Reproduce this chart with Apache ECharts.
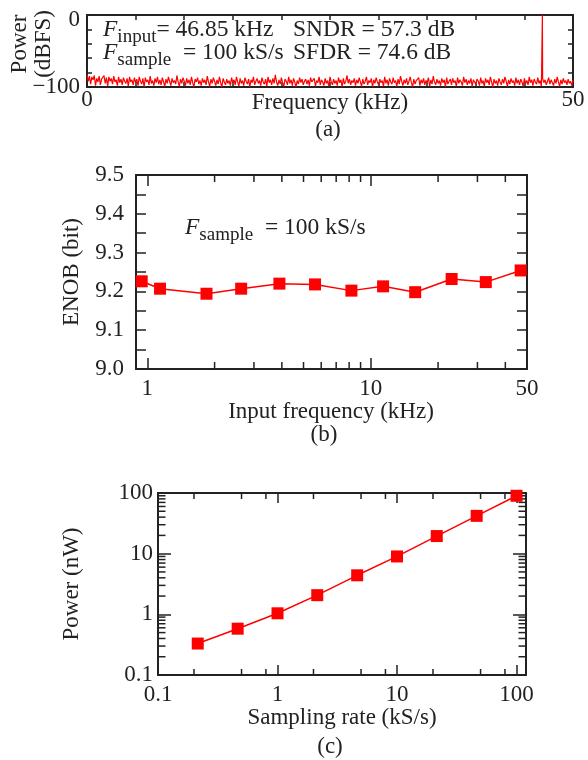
<!DOCTYPE html>
<html><head><meta charset="utf-8">
<script src="https://cdn.jsdelivr.net/npm/echarts@6/dist/echarts.min.js"></script>
<style>html,body{margin:0;padding:0;background:#fff}#c{width:588px;height:760px}</style>
</head><body><div id="c"></div>
<script>
// ---------- Panel (a): output spectrum ----------
const spectrumStep = 0.125; // kHz per FFT bin
const spectrumDb = [
  -83,-92,-85,-96,-86,-90,-84,-98,-88,-93,-85,-97,-89,-91,-84,-95,-87,-99,-86,-92,
  -88,-96,-85,-93,-90,-98,-86,-94,-89,-97,-87,-92,-95,-88,-99,-86,-93,-90,-97,-87,
  -94,-89,-98,-86,-92,-96,-88,-100,-87,-93,-90,-97,-85,-95,-91,-98,-88,-94,-86,-96,
  -90,-97,-87,-93,-99,-89,-95,-86,-92,-98,-88,-94,-91,-96,-84,-93,-99,-89,-95,-87,
  -92,-98,-88,-95,-90,-97,-86,-94,-100,-89,-93,-87,-96,-91,-98,-88,-94,-90,-97,-85,
  -93,-99,-89,-95,-87,-92,-98,-90,-96,-86,-94,-100,-88,-93,-97,-89,-95,-91,-98,-87,
  -94,-90,-97,-86,-93,-99,-88,-95,-91,-98,-87,-92,-96,-89,-100,-90,-94,-86,-97,-92,
  -88,-95,-91,-98,-87,-93,-96,-89,-99,-86,-94,-90,-97,-88,-95,-83,-93,-98,-90,-96,
  -87,-94,-99,-89,-92,-97,-86,-95,-90,-98,-88,-93,-100,-91,-96,-87,-94,-89,-97,-92,
  -89,-96,-90,-98,-87,-93,-95,-88,-99,-91,-94,-86,-97,-90,-93,-98,-88,-95,-91,-99,
  -86,-93,-97,-89,-95,-91,-98,-87,-94,-90,-100,-88,-96,-92,-84,-95,-89,-97,-91,-94,
  -88,-98,-90,-95,-87,-93,-99,-89,-96,-92,-86,-97,-91,-94,-88,-100,-90,-95,-87,-93,
  -97,-89,-94,-91,-99,-86,-95,-90,-98,-88,-93,-96,-87,-94,-91,-99,-89,-96,-85,-92,
  -98,-90,-95,-88,-97,-92,-86,-94,-100,-89,-96,-91,-93,-87,-98,-90,-95,-88,-97,-91,
  -94,-87,-99,-90,-96,-85,-93,-97,-89,-95,-91,-98,-88,-94,-90,-100,-87,-96,-92,-89,
  -97,-88,-94,-91,-99,-87,-95,-90,-93,-98,-86,-94,-89,-97,-91,-95,-88,-99,-90,-93,
  -96,-89,-92,-98,-87,-95,-91,-99,-88,-94,-90,-97,-86,-93,-100,-89,-95,-91,-98,-88,
  -93,-97,-89,-95,-86,-92,-99,-90,-96,-88,-94,-91,-98,-87,-95,-90,-97,-89,-93,-99,
  -88,-95,-91,-97,-86,-94,-90,-98,-89,-93,-96,-87,-95,-91,-99,-88,-94,-90,-97,-92,
  -87,-96,-90,-94,-98,-89,-95,-86,-93,-99,-90,-96,-88,-94,-91,-97,-89,-95,-92,-98,
  -90
];
const toneFreq = 46.85;   // kHz
const toneDb = 0;         // dBFS
const xTickLabelsA = ['0', '50'];
const yTickLabelsA = ['\u2212100', '0'];

// ---------- Panel (b): ENOB vs input frequency ----------
const enobFreq = [0.944, 1.14, 1.84, 2.63, 3.9, 5.63, 8.19, 11.35, 15.8, 23.0, 32.7, 46.85];
const enob     = [9.226, 9.207, 9.194, 9.207, 9.220, 9.218, 9.202, 9.213, 9.198, 9.232, 9.224, 9.254];
const xTickLabelsB = ['1', '10', '50'];
const yTickLabelsB = ['9.0', '9.1', '9.2', '9.3', '9.4', '9.5'];

// ---------- Panel (c): power vs sampling rate ----------
const sampRate = [0.215, 0.464, 1, 2.15, 4.64, 10, 21.5, 46.4, 100];
const powerNW  = [0.33, 0.58, 1.04, 2.07, 4.4, 9.0, 19.5, 42, 90];
const xTickLabelsC = ['0.1', '1', '10', '100'];
const yTickLabelsC = ['0.1', '1', '10', '100'];

// ---------- styling ----------
const FONT = "'Liberation Serif','DejaVu Serif',serif";
const INK = '#222';
const RED = '#ff0000';
const FS = 23;

function fmtNum(v) { return String(+(+v).toPrecision(6)); }
function pickLabel(list, neg) {
  return function (v) {
    let s = fmtNum(v);
    if (neg && v < 0) s = '\u2212' + fmtNum(-v);
    return list.indexOf(s) >= 0 ? s : '';
  };
}

function mkAxis(o) {
  const ax = {
    type: o.type, gridIndex: o.grid, position: o.position,
    min: o.min, max: o.max,
    axisLine: { show: true, onZero: false, lineStyle: { color: INK, width: 2 } },
    axisTick: { show: true, inside: true, length: o.tick, lineStyle: { color: INK, width: 1.5 } },
    axisLabel: o.labels ? {
      show: true, color: INK, fontFamily: FONT, fontSize: FS, margin: o.margin,
      formatter: o.labels, showMinLabel: true, showMaxLabel: true, hideOverlap: false,
      rich: o.rich
    } : { show: false },
    splitLine: { show: false }, minorTick: { show: false }, minorSplitLine: { show: false }
  };
  if (o.interval != null) ax.interval = o.interval;
  return ax;
}

// Panel (a) data
const spectrumData = [];
for (let i = 0; i < spectrumDb.length; i++) {
  const f = i * spectrumStep;
  spectrumData.push([f, spectrumDb[i]]);
  if (f < toneFreq && (i + 1) * spectrumStep > toneFreq) spectrumData.push([toneFreq, toneDb]);
}

// minor-tick values of log axes (axis structure)
function minorVals(decades, mults, lo, hi) {
  const out = [];
  decades.forEach(d => mults.forEach(m => { const v = +(d * m).toPrecision(6); if (v > lo && v < hi) out.push(v); }));
  return out;
}
const xMinB = 0.89, xMaxB = 50, yMinB = 9.0, yMaxB = 9.5;
const xMinC = 0.1, xMaxC = 120, yMinC = 0.1, yMaxC = 100;
const minorXB = minorVals([1, 10], [2, 3, 4, 5, 6, 7, 8, 9], xMinB, xMaxB);
const minorXC = minorVals([0.1, 1, 10], [2, 5, 8], xMinC, xMaxC);
const minorYC = minorVals([0.1, 1, 10], [2, 3, 4, 5, 6, 7, 8, 9], yMinC, yMaxC);

function vTicks(yLo, yHi, len) {
  return function (params, api) {
    const v = api.value(0);
    const a = api.coord([v, yLo]), b = api.coord([v, yHi]);
    const st = { stroke: INK, lineWidth: 1.5 };
    return { type: 'group', children: [
      { type: 'line', shape: { x1: a[0], y1: a[1], x2: a[0], y2: a[1] - len }, style: st },
      { type: 'line', shape: { x1: b[0], y1: b[1], x2: b[0], y2: b[1] + len }, style: st }
    ] };
  };
}
function hTicks(xLo, xHi, len) {
  return function (params, api) {
    const v = api.value(1);
    const a = api.coord([xLo, v]), b = api.coord([xHi, v]);
    const st = { stroke: INK, lineWidth: 1.5 };
    return { type: 'group', children: [
      { type: 'line', shape: { x1: a[0], y1: a[1], x2: a[0] + len, y2: a[1] }, style: st },
      { type: 'line', shape: { x1: b[0], y1: b[1], x2: b[0] - len, y2: b[1] }, style: st }
    ] };
  };
}

const richA = {
  i: { fontFamily: FONT, fontSize: 23.5, fontStyle: 'italic', fontWeight: 'normal', color: INK, lineHeight: 23 },
  n: { fontFamily: FONT, fontSize: 23.5, fontWeight: 'normal', color: INK, lineHeight: 23 },
  sub: { fontFamily: FONT, fontSize: 19, fontWeight: 'normal', color: INK, lineHeight: 8, padding: [15, 0, 0, 0] }
};
const titleStyle = { fontWeight: 'normal', fontFamily: FONT, fontSize: 23.5, color: INK, rich: richA };

// y label of panel (a): the top label sits a little below its tick
const yLabelA = pickLabel(yTickLabelsA, true);
const yLabelAFmt = function (v) { const s = yLabelA(v); return s === '0' ? '{t|0}' : s; };

const chart = echarts.init(document.getElementById('c'), null, { renderer: 'canvas' });
chart.setOption({
  animation: false,
  backgroundColor: '#fff',
  grid: [
    { left: 87, top: 15, width: 486, height: 72, containLabel: false, outerBoundsMode: 'none' },
    { left: 136, top: 175, width: 391, height: 194, containLabel: false, outerBoundsMode: 'none' },
    { left: 158, top: 493, width: 368, height: 182, containLabel: false, outerBoundsMode: 'none' }
  ],
  xAxis: [
    mkAxis({ type: 'value', grid: 0, position: 'bottom', min: 0, max: 50, interval: 5, tick: 5, margin: 1, labels: pickLabel(xTickLabelsA) }),
    mkAxis({ type: 'value', grid: 0, position: 'top', min: 0, max: 50, interval: 5, tick: 5 }),
    mkAxis({ type: 'log', grid: 1, position: 'bottom', min: xMinB, max: xMaxB, tick: 11, margin: 8, labels: pickLabel(xTickLabelsB) }),
    mkAxis({ type: 'log', grid: 1, position: 'top', min: xMinB, max: xMaxB, tick: 11 }),
    mkAxis({ type: 'log', grid: 2, position: 'bottom', min: xMinC, max: xMaxC, tick: 10, margin: 8, labels: pickLabel(xTickLabelsC) }),
    mkAxis({ type: 'log', grid: 2, position: 'top', min: xMinC, max: xMaxC, tick: 10 })
  ],
  yAxis: [
    mkAxis({ type: 'value', grid: 0, position: 'left', min: -100, max: 0, interval: 20, tick: 5, margin: 7, labels: yLabelAFmt,
             rich: { t: { fontFamily: FONT, fontSize: FS, color: INK, padding: [10, 0, 0, 0] } } }),
    mkAxis({ type: 'value', grid: 0, position: 'right', min: -100, max: 0, interval: 20, tick: 5 }),
    mkAxis({ type: 'value', grid: 1, position: 'left', min: yMinB, max: yMaxB, interval: 0.05, tick: 10, margin: 12,
             labels: function (v) { const s = (+v).toFixed(1); return (Math.abs(v * 10 - Math.round(v * 10)) < 1e-6 && yTickLabelsB.indexOf(s) >= 0) ? s : ''; } }),
    mkAxis({ type: 'value', grid: 1, position: 'right', min: yMinB, max: yMaxB, interval: 0.05, tick: 10 }),
    mkAxis({ type: 'log', grid: 2, position: 'left', min: yMinC, max: yMaxC, tick: 13, margin: 5, labels: pickLabel(yTickLabelsC) }),
    mkAxis({ type: 'log', grid: 2, position: 'right', min: yMinC, max: yMaxC, tick: 13 })
  ],
  title: [
    { left: 103, top: 18, padding: 0, text: '{i|F}{sub|input}{n|= 46.85 kHz}\n{i|F}{sub|sample}{n|  = 100 kS/s}', textStyle: titleStyle },
    { left: 293, top: 18, padding: 0, text: '{n|SNDR = 57.3 dB}\n{n|SFDR = 74.6 dB}', textStyle: titleStyle },
    { left: 185, top: 216, padding: 0, text: '{i|F}{sub|sample}{n|  = 100 kS/s}', textStyle: titleStyle }
  ],
  graphic: [
    { type: 'text', x: 32, y: 44, rotation: Math.PI / 2, style: { text: 'Power\n(dBFS)', font: FS + 'px ' + FONT, fill: INK, align: 'center', verticalAlign: 'middle', lineHeight: 24 } },
    { type: 'text', x: 330, y: 103, style: { text: 'Frequency (kHz)', font: FS + 'px ' + FONT, fill: INK, align: 'center', verticalAlign: 'middle' } },
    { type: 'text', x: 328, y: 130, style: { text: '(a)', font: FS + 'px ' + FONT, fill: INK, align: 'center', verticalAlign: 'middle' } },
    { type: 'text', x: 72, y: 272, rotation: Math.PI / 2, style: { text: 'ENOB (bit)', font: FS + 'px ' + FONT, fill: INK, align: 'center', verticalAlign: 'middle' } },
    { type: 'text', x: 331, y: 412, style: { text: 'Input frequency (kHz)', font: FS + 'px ' + FONT, fill: INK, align: 'center', verticalAlign: 'middle' } },
    { type: 'text', x: 324, y: 435, style: { text: '(b)', font: FS + 'px ' + FONT, fill: INK, align: 'center', verticalAlign: 'middle' } },
    { type: 'text', x: 72, y: 584, rotation: Math.PI / 2, style: { text: 'Power (nW)', font: FS + 'px ' + FONT, fill: INK, align: 'center', verticalAlign: 'middle' } },
    { type: 'text', x: 342, y: 718, style: { text: 'Sampling rate (kS/s)', font: FS + 'px ' + FONT, fill: INK, align: 'center', verticalAlign: 'middle' } },
    { type: 'text', x: 330, y: 747, style: { text: '(c)', font: FS + 'px ' + FONT, fill: INK, align: 'center', verticalAlign: 'middle' } }
  ],
  series: [
    { name: 'spectrum', type: 'line', xAxisIndex: 0, yAxisIndex: 0, data: spectrumData, showSymbol: false, symbol: 'none',
      lineStyle: { color: RED, width: 1.2 }, itemStyle: { color: RED }, z: 3 },
    { type: 'custom', xAxisIndex: 2, yAxisIndex: 2, silent: true, clip: false, z: 1,
      renderItem: vTicks(yMinB, yMaxB, 7), data: minorXB.map(v => [v, yMinB]) },
    { name: 'ENOB', type: 'line', xAxisIndex: 2, yAxisIndex: 2, data: enobFreq.map((f, i) => [f, enob[i]]),
      symbol: 'rect', symbolSize: 12, clip: false, lineStyle: { color: RED, width: 1.5 }, itemStyle: { color: RED }, z: 3 },
    { type: 'custom', xAxisIndex: 4, yAxisIndex: 4, silent: true, clip: false, z: 1,
      renderItem: vTicks(yMinC, yMaxC, 6), data: minorXC.map(v => [v, yMinC]) },
    { type: 'custom', xAxisIndex: 4, yAxisIndex: 4, silent: true, clip: false, z: 1,
      renderItem: hTicks(xMinC, xMaxC, 7.5), data: minorYC.map(v => [xMinC, v]) },
    { name: 'Power', type: 'line', xAxisIndex: 4, yAxisIndex: 4, data: sampRate.map((f, i) => [f, powerNW[i]]),
      symbol: 'rect', symbolSize: 12, clip: false, lineStyle: { color: RED, width: 1.5 }, itemStyle: { color: RED }, z: 3 }
  ]
});
</script>
</body></html>
